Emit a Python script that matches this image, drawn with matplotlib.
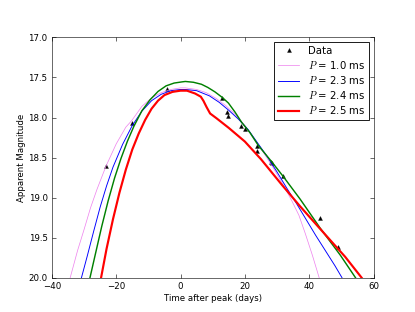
import numpy as np
import matplotlib
matplotlib.use("Agg")
import matplotlib.pyplot as plt

matplotlib.rcParams['mathtext.fontset'] = 'cm'

# observed points
t_data = [-23.2, -15.1, -4.1, 13.0, 14.4, 14.8, 18.9, 19.9, 23.8, 23.8, 28.0, 28.4, 32.0, 43.5, 49.0]
m_data = [18.61, 18.07, 17.65, 17.76, 17.93, 17.98, 18.11, 18.14, 18.36, 18.42, 18.55, 18.57, 18.73, 19.26, 19.62]

# model light curves
t_p10 = [-34.3, -32, -30, -28, -26, -23.2, -20, -17, -15.2, -12, -9, -6, -3, 0, 1.5, 5, 8, 11, 14, 17,
         20, 23, 26, 29, 32.2, 34.6, 36.8, 38.8, 41.0, 43.1]
m_p10 = [20.0, 19.66, 19.40, 19.13, 18.90, 18.61, 18.33, 18.12, 18.04, 17.86, 17.755, 17.69, 17.65,
         17.63, 17.63, 17.65, 17.69, 17.76, 17.85, 17.96, 18.1, 18.27, 18.45, 18.64, 18.86, 19.04, 19.22,
         19.45, 19.72, 20.0]

t_p23 = [-30.8, -29, -27, -25, -23, -21, -18, -15, -12, -9, -6, -3, 0, 1.5, 5, 9, 12, 15, 18,
         21, 24, 27, 30, 33, 36, 39, 42, 45, 48, 50.2]
m_p23 = [20.0, 19.73, 19.42, 19.12, 18.855, 18.62, 18.335, 18.10, 17.92, 17.79, 17.71, 17.665, 17.65,
         17.65, 17.665, 17.73, 17.81, 17.91, 18.02, 18.15, 18.32, 18.49, 18.68, 18.88, 19.07, 19.27,
         19.47, 19.66, 19.85, 20.0]

t_p24 = [-28.15, -26.5, -24.5, -22.5, -20.5, -18.5, -16.5, -14.5, -12, -9.5, -7, -4.5, -2, 0.5, 1.5, 4,
         6.5, 8.5, 10.7, 13.0, 14.9, 16.9, 19.0, 21.6, 24.2, 28.3, 32.0, 37.2, 43.4, 49.7, 54.4]
m_p24 = [20.0, 19.71, 19.36, 19.04, 18.755, 18.51, 18.295, 18.11, 17.915, 17.78, 17.675, 17.605, 17.57,
         17.555, 17.55, 17.56, 17.585, 17.625, 17.68, 17.75, 17.82, 17.93, 18.06, 18.19, 18.35, 18.55,
         18.74, 19.02, 19.38, 19.72, 20.0]

t_p25 = [-24.7, -23, -21, -19, -17, -15, -13, -11, -9, -7, -5, -2.5, 0, 2, 4.5, 6.3, 7.1, 8.1, 9.2,
         11.2, 15, 20, 25, 31.5, 37.2, 43.4, 51.2, 56.3]
m_p25 = [20.0, 19.64, 19.27, 18.94, 18.65, 18.40, 18.20, 18.03, 17.89, 17.79, 17.72, 17.68, 17.665,
         17.665, 17.70, 17.74, 17.79, 17.87, 17.95, 18.01, 18.13, 18.30, 18.52, 18.84, 19.11, 19.39,
         19.74, 20.0]

fig = plt.figure(figsize=(8, 6.015), dpi=51.875)
ax = fig.add_subplot(111)

ax.plot(t_data, m_data, '^', color='black', markersize=5.5, markeredgewidth=0.5, label='Data')
ax.plot(t_p10, m_p10, color='violet', linewidth=1.0, label=r'$P$ = 1.0 ms')
ax.plot(t_p23, m_p23, color='blue', linewidth=1.3, label=r'$P$ = 2.3 ms')
ax.plot(t_p24, m_p24, color='green', linewidth=2.0, label=r'$P$ = 2.4 ms')
ax.plot(t_p25, m_p25, color='red', linewidth=3.0, label=r'$P$ = 2.5 ms')

ax.set_xlim(-40, 60)
ax.set_ylim(20, 17)
ax.set_xticks([-40, -20, 0, 20, 40, 60])
ax.set_yticks([17.0, 17.5, 18.0, 18.5, 19.0, 19.5, 20.0])
ax.set_yticklabels(['17.0', '17.5', '18.0', '18.5', '19.0', '19.5', '20.0'])
ax.tick_params(direction='in', top=True, right=True, labelsize=12, length=6, pad=6)
ax.set_xlabel('Time after peak (days)', fontsize=12)
ax.set_ylabel('Apparent Magnitude', fontsize=12)

leg = ax.legend(loc='upper right', numpoints=1, fontsize=14, fancybox=False, handlelength=2.1,
                handletextpad=0.8, borderpad=0.4, labelspacing=0.3, borderaxespad=0.45)
leg.get_frame().set_edgecolor('black')
leg.get_frame().set_linewidth(1.2)
leg.get_frame().set_alpha(1)

plt.savefig('out.png', dpi=51.875)
